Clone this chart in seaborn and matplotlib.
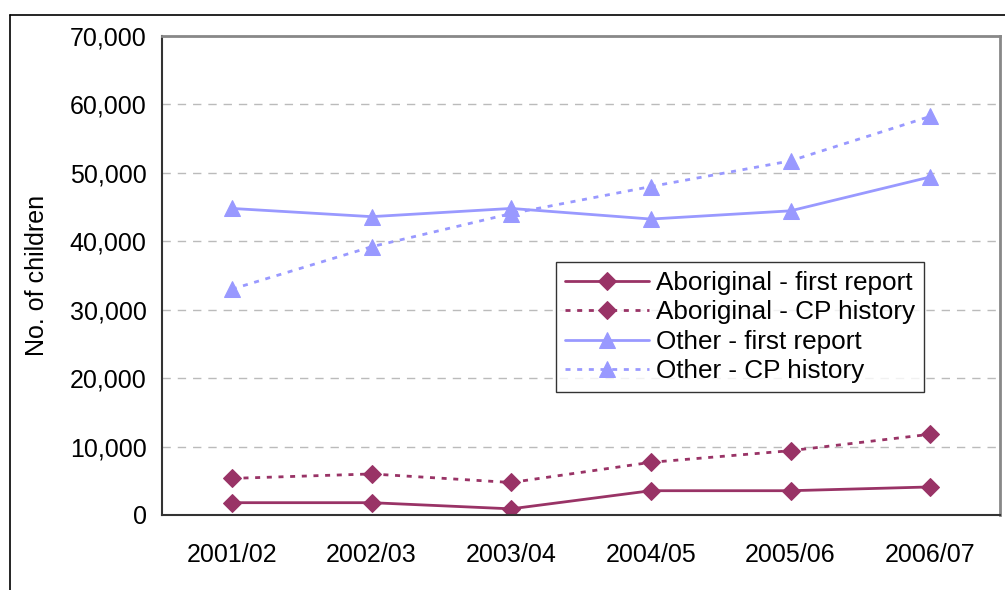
import matplotlib
matplotlib.use("Agg")
import matplotlib.pyplot as plt
import seaborn as sns
import numpy as np
from matplotlib.lines import Line2D
from matplotlib.ticker import FuncFormatter, FixedLocator

# data
years = ["2001/02", "2002/03", "2003/04", "2004/05", "2005/06", "2006/07"]
abor_first = [1800, 1800, 900, 3550, 3550, 4100]
abor_cp = [5350, 6000, 4750, 7700, 9400, 11800]
other_first = [44800, 43600, 44800, 43250, 44450, 49400]
other_cp = [33000, 39200, 44050, 48000, 51750, 58250]

dots = (0, (1.8, 2.4))
series = [
    ("Aboriginal - first report", abor_first, "#993366", "D", "-"),
    ("Aboriginal - CP history", abor_cp, "#993366", "D", dots),
    ("Other - first report", other_first, "#9999FF", "^", "-"),
    ("Other - CP history", other_cp, "#9999FF", "^", dots),
]

sns.set_style("white")
plt.rcParams["font.family"] = ["Liberation Sans", "DejaVu Sans"]
plt.rcParams["text.color"] = "black"
plt.rcParams["xtick.color"] = "black"
plt.rcParams["ytick.color"] = "black"
plt.rcParams["axes.labelcolor"] = "black"

fs = 18
fig = plt.figure(figsize=(10.05, 5.9), dpi=100)
ax = fig.add_axes([162 / 1005, 1 - 515 / 590, 838 / 1005, 479 / 590])

x = np.arange(len(years))
for label, vals, col, mk, ls in series:
    ms = 9 if mk == "D" else 11
    sns.lineplot(x=x, y=vals, ax=ax, color=col, marker=mk, markersize=ms,
                 markeredgecolor=col, linestyle=ls, linewidth=2, label=label)

ax.set_xlim(-0.5, len(years) - 0.5)
ax.set_ylim(0, 70000)
ax.set_xticks(x)
ax.set_xticklabels(years, fontsize=fs)
ax.xaxis.set_minor_locator(FixedLocator(np.arange(-0.5, len(years), 1.0)))
ax.tick_params(axis="x", which="major", length=0, pad=20)
ax.tick_params(axis="x", which="minor", length=8, width=1.2, color="#333333")
ax.set_yticks(np.arange(0, 70001, 10000))
ax.yaxis.set_major_formatter(FuncFormatter(lambda v, p: f"{int(v):,}"))
ax.tick_params(axis="y", labelsize=fs, length=6, width=1.2, color="#333333", pad=5)
ax.set_ylabel("No. of children", fontsize=fs, labelpad=15)
ax.set_xlabel("")

ax.yaxis.grid(True, linestyle=(0, (6, 5)), color="#BBBBBB", linewidth=1)
ax.set_axisbelow(True)
for side in ["left", "bottom"]:
    ax.spines[side].set_color("#333333")
    ax.spines[side].set_linewidth(1.5)
for side in ["top", "right"]:
    ax.spines[side].set_color("#888888")
    ax.spines[side].set_linewidth(2)

leg = ax.legend(loc="upper left", bbox_to_anchor=(0.470, 0.528),
                borderaxespad=0, fontsize=18.8, frameon=True, fancybox=False,
                handlelength=3.2, handletextpad=0.28, labelspacing=0.2, borderpad=0.35)
leg.get_frame().set_edgecolor("black")
leg.get_frame().set_linewidth(1)

# outer chart border (cut off at right and bottom)
fig.add_artist(Line2D([10 / 1005, 10 / 1005], [0, 1 - 15 / 590], color="black", lw=1.2))
fig.add_artist(Line2D([10 / 1005, 1], [1 - 15 / 590, 1 - 15 / 590], color="black", lw=1.2))

fig.savefig("out.png", dpi=100)
